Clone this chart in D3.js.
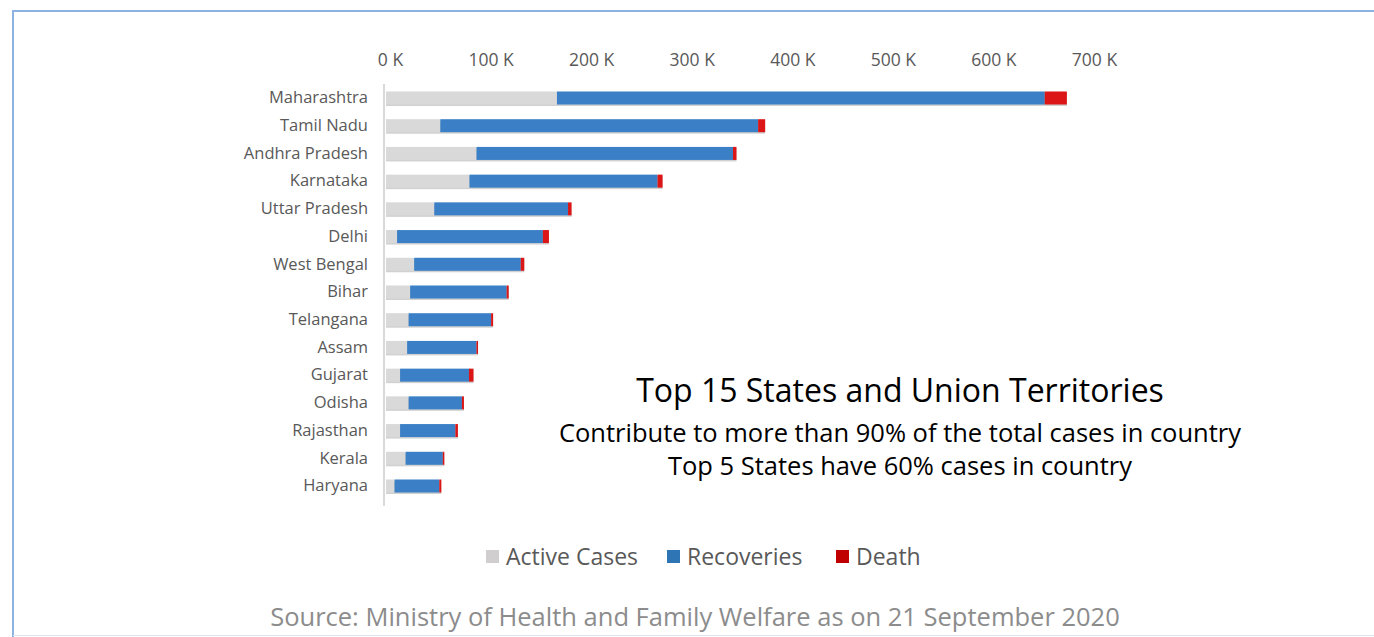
<!DOCTYPE html>
<html lang="en">
<head>
<meta charset="UTF-8">
<title>Top 15 States - COVID cases</title>
<script src="https://d3js.org/d3.v7.min.js"></script>
<style>
    body {
        margin: 0;
        padding: 0;
        background-color: #ffffff;
        font-family: "Open Sans", "Noto Sans", sans-serif;
    }
    svg {
        display: block;
    }
    .tick-label, .state-label, .legend-label {
        fill: #595959;
    }
</style>
</head>
<body>
<svg id="chart" width="1374" height="637"></svg>
<script>
    // values in thousands
    const states = ["Maharashtra", "Tamil Nadu", "Andhra Pradesh", "Karnataka", "Uttar Pradesh",
        "Delhi", "West Bengal", "Bihar", "Telangana", "Assam", "Gujarat", "Odisha",
        "Rajasthan", "Kerala", "Haryana"];
    const activeCases = [170, 54, 90, 83, 48, 11, 28, 24, 22.5, 21, 14, 22.5, 14, 19.5, 8.5];
    const recoveries = [485, 316, 255, 187, 133, 145, 106, 96, 82, 69, 68.5, 53, 55, 37, 44.5];
    const deaths = [22, 7, 3.5, 5, 3.5, 6, 3.5, 2, 2, 1.5, 4.5, 2, 2.5, 1.5, 2];
    const seriesNames = ["Active Cases", "Recoveries", "Death"];
    const tickValues = [0, 100, 200, 300, 400, 500, 600, 700];

    const colors = ["#d9d9d9", "#3b80c6", "#dc1616"];
    const legendColors = ["#d0cece", "#2e75b6", "#c00000"];

    const svg = d3.select('#chart');

    // frame
    svg.append('line').attr('x1', 13).attr('x2', 1374).attr('y1', 11).attr('y2', 11)
        .attr('stroke', '#8db3e2').attr('stroke-width', 2);
    svg.append('line').attr('x1', 13).attr('x2', 13).attr('y1', 10).attr('y2', 637)
        .attr('stroke', '#8db3e2').attr('stroke-width', 2);
    svg.append('line').attr('x1', 13).attr('x2', 1374).attr('y1', 635.5).attr('y2', 635.5)
        .attr('stroke', '#dce6f2').attr('stroke-width', 1);

    const x = d3.scaleLinear().domain([0, 700]).range([386, 1090]);
    const y = d3.scaleBand().domain(states).range([84, 500]).paddingInner(0.53).paddingOuter(0.27);

    // axis labels on top
    const xAxis = d3.axisTop(x).tickValues(tickValues).tickSize(0).tickFormat(d => d + " K");
    const gx = svg.append('g').attr('transform', 'translate(4,69)').call(xAxis);
    gx.select('.domain').remove();
    gx.selectAll('text').attr('class', 'tick-label').style('font-size', '17.5px')
        .style('font-family', '"Open Sans", sans-serif');

    // category labels
    const yAxis = d3.axisLeft(y).tickSize(0).tickPadding(16);
    const gy = svg.append('g').attr('transform', 'translate(384,0)').call(yAxis);
    gy.select('.domain').remove();
    gy.selectAll('text').attr('class', 'state-label').style('font-size', '16.5px')
        .style('font-family', '"Open Sans", sans-serif');

    // stacked bars
    const rows = states.map((s, i) => ({ state: s, a: activeCases[i], r: recoveries[i], d: deaths[i] }));
    const stack = d3.stack().keys(['a', 'r', 'd'])(rows);

    const layers = svg.append('g').selectAll('g').data(stack).join('g')
        .attr('fill', (d, i) => colors[i]);

    // soft shadow under each segment
    layers.selectAll('rect.shadow').data(d => d).join('rect')
        .attr('class', 'shadow')
        .attr('x', d => x(d[0]))
        .attr('y', d => y(d.data.state) + 1.5)
        .attr('width', d => x(d[1]) - x(d[0]))
        .attr('height', y.bandwidth())
        .attr('fill', '#000').attr('opacity', 0.18);

    layers.selectAll('rect.seg').data(d => d).join('rect')
        .attr('class', 'seg')
        .attr('x', d => x(d[0]))
        .attr('y', d => y(d.data.state))
        .attr('width', d => x(d[1]) - x(d[0]))
        .attr('height', y.bandwidth());

    // vertical axis line
    svg.append('line').attr('x1', 384).attr('x2', 384).attr('y1', 84).attr('y2', 506)
        .attr('stroke', '#d9d9d9').attr('stroke-width', 2);

    // annotation
    const note = svg.append('g').attr('text-anchor', 'middle').attr('fill', '#000');
    note.append('text').attr('x', 900).attr('y', 402).style('font-size', '32px')
        .text('Top 15 States and Union Territories');
    note.append('text').attr('x', 900).attr('y', 442).style('font-size', '25.5px')
        .text('Contribute to more than 90% of the total cases in country');
    note.append('text').attr('x', 900).attr('y', 475).style('font-size', '25.5px')
        .text('Top 5 States have 60% cases in country');

    // legend
    const legendX = [486, 667, 836];
    const legend = svg.append('g').selectAll('g').data(seriesNames).join('g')
        .attr('transform', (d, i) => `translate(${legendX[i]},550)`);
    legend.append('rect').attr('width', 13).attr('height', 13).attr('fill', (d, i) => legendColors[i]);
    legend.append('text').attr('class', 'legend-label').attr('x', 20).attr('y', 14.5)
        .style('font-size', '23px').text(d => d);

    // source
    svg.append('text').attr('x', 695).attr('y', 626).attr('text-anchor', 'middle')
        .attr('fill', '#8c8c8c').style('font-size', '25.5px')
        .text('Source: Ministry of Health and Family Welfare as on 21 September 2020');
</script>
</body>
</html>
